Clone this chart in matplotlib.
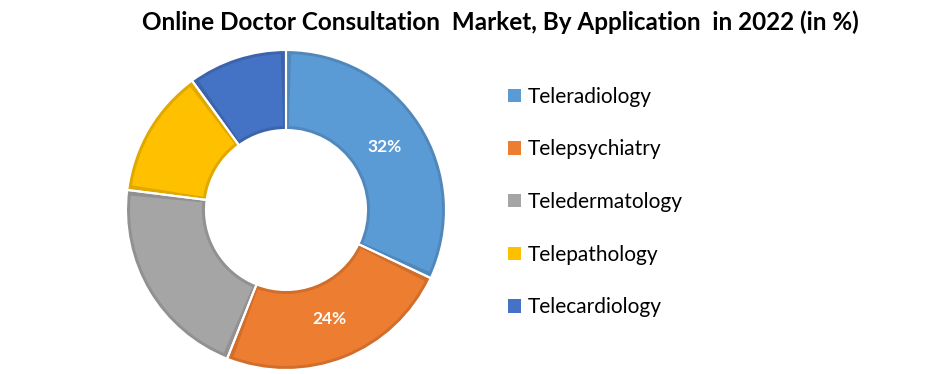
import numpy as np
import matplotlib.pyplot as plt
import matplotlib.colors as mcolors
from matplotlib.patches import Patch, Wedge

applications = ['Teleradiology', 'Telepsychiatry', 'Teledermatology',
                'Telepathology', 'Telecardiology']
shares = [32, 24, 21, 13, 10]
shown_labels = ['32%', '24%', '', '', '']
colors = ['#5B9BD5', '#ED7D31', '#A5A5A5', '#FFC000', '#4472C4']


def darker(c, f=0.88):
    r, g, b = mcolors.to_rgb(c)
    return (r * f, g * f, b * f)


fig = plt.figure(figsize=(9.42, 3.74), dpi=100)
ax = fig.add_axes([126 / 942, 4 / 374, 320 / 942, 320 / 374])

# outer (darker) rim of each segment
wedges, _ = ax.pie(shares, colors=[darker(c) for c in colors], startangle=90,
                   counterclock=False, radius=1.0,
                   wedgeprops=dict(width=0.5, linewidth=0))
# lighter fill inset a few pixels
d = 0.025
for w, c in zip(wedges, colors):
    a1, a2 = sorted((w.theta1, w.theta2))
    da = np.degrees(d / 0.75)
    ax.add_patch(Wedge((0, 0), 1 - d, a1 + da, a2 - da, width=0.5 - 2 * d,
                       facecolor=c, edgecolor='none'))
# thin white gaps between segments
ax.pie(shares, colors=['none'] * 5, startangle=90, counterclock=False,
       radius=1.0,
       wedgeprops=dict(width=0.5, edgecolor='white', linewidth=1.5))

cum = np.cumsum([0] + shares[:-1])
for start, val, lab in zip(cum, shares, shown_labels):
    if not lab:
        continue
    ang = np.deg2rad(90 - (start + val / 2) * 3.6)
    ax.text(0.73 * np.cos(ang), 0.73 * np.sin(ang), lab, color='white',
            fontsize=12.5, fontweight='bold', ha='center', va='center',
            family='Lato')

ax.set_xlim(-1, 1)
ax.set_ylim(-1, 1)
ax.set_aspect('equal')
ax.axis('off')

fig.text(500 / 942, 0.94, 'Online Doctor Consultation  Market, By Application  in 2022 (in %)',
         ha='center', va='center', fontsize=17.5, fontweight='bold', family='Lato')

handles = [Patch(facecolor=c, edgecolor='none') for c in colors]
fig.legend(handles, applications, loc='center left',
           bbox_to_anchor=(508 / 942, 0.46), frameon=False,
           prop=dict(family='Lato', size=15), handlelength=0.6,
           handleheight=0.6, handletextpad=0.35, labelspacing=1.57,
           borderpad=0, borderaxespad=0)

fig.savefig('out.png', dpi=100)
